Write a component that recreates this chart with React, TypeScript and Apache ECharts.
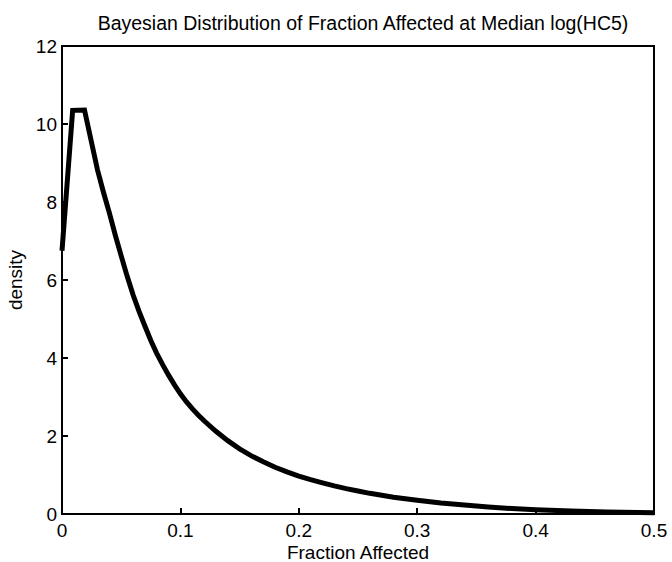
import React, { useEffect, useRef } from "react";
import * as echarts from "echarts";

const fraction = [0, 0.009, 0.019, 0.03, 0.035, 0.04, 0.045, 0.05, 0.055, 0.06, 0.065, 0.07, 0.075, 0.08, 0.085, 0.09, 0.095, 0.1, 0.105, 0.11, 0.115, 0.12, 0.13, 0.14, 0.15, 0.16, 0.17, 0.18, 0.19, 0.2, 0.21, 0.22, 0.23, 0.24, 0.25, 0.26, 0.27, 0.28, 0.29, 0.3, 0.32, 0.34, 0.36, 0.38, 0.4, 0.43, 0.46, 0.5];
const density = [6.75, 10.35, 10.36, 8.82, 8.25, 7.72, 7.15, 6.62, 6.1, 5.62, 5.2, 4.82, 4.45, 4.12, 3.83, 3.56, 3.31, 3.08, 2.88, 2.7, 2.54, 2.39, 2.12, 1.88, 1.67, 1.49, 1.34, 1.2, 1.08, 0.97, 0.88, 0.8, 0.72, 0.65, 0.59, 0.53, 0.48, 0.43, 0.39, 0.35, 0.28, 0.23, 0.18, 0.14, 0.11, 0.08, 0.05, 0.03];
const xTicks = [0, 0.1, 0.2, 0.3, 0.4, 0.5];
const yTicks = [0, 2, 4, 6, 8, 10, 12];
const xAxisName = "Fraction Affected";

const FONT = "'Liberation Sans', Arial, Helvetica, sans-serif";

export default function App() {
  const ref = useRef<HTMLDivElement>(null);
  useEffect(() => {
    const chart = echarts.init(ref.current!, null, { renderer: "svg" });
    chart.setOption({
      animation: false,
      backgroundColor: "#ffffff",
      title: {
        text: "Bayesian Distribution of Fraction Affected at Median log(HC5)",
        left: 358,
        textAlign: "center",
        top: 8,
        textStyle: { fontFamily: FONT, fontSize: 19.5, fontWeight: "normal", color: "#000" },
      },
      graphic: [
        {
          type: "text",
          x: 358,
          y: 552,
          style: {
            text: xAxisName,
            fontFamily: FONT,
            fontSize: 19,
            lineHeight: 19,
            fill: "#000",
            textAlign: "center",
            textVerticalAlign: "middle",
          },
        },
      ],
      grid: {
        left: 62, right: 18, top: 46, bottom: 48,
        outerBoundsMode: "none",
        containLabel: false,
        show: true, borderColor: "#000", borderWidth: 2, backgroundColor: "transparent",
      },
      xAxis: {
        type: "value",
        min: 0,
        max: 0.5,
        interval: 0.1,
        axisLine: { show: true, lineStyle: { color: "#000", width: 2 } },
        axisTick: { show: true, inside: true, length: 6, lineStyle: { color: "#000", width: 2 } },
        axisLabel: {
          fontFamily: FONT, fontSize: 19, lineHeight: 19, color: "#000", margin: 7,
          formatter: (v: number) => (xTicks.includes(Number(v.toFixed(1))) ? String(Number(v.toFixed(1))) : ""),
        },
        splitLine: { show: false },
      },
      yAxis: {
        type: "value",
        min: 0,
        max: 12,
        interval: 2,
        name: "density",
        nameLocation: "middle",
        nameGap: 32,
        nameTextStyle: { fontFamily: FONT, fontSize: 19, color: "#000" },
        axisLine: { show: true, lineStyle: { color: "#000", width: 2 } },
        axisTick: { show: true, inside: true, length: 6, lineStyle: { color: "#000", width: 2 } },
        axisLabel: {
          fontFamily: FONT, fontSize: 19, color: "#000", margin: 5,
          formatter: (v: number) => (yTicks.includes(v) ? String(v) : ""),
        },
        splitLine: { show: false },
      },
      series: [
        {
          type: "line",
          data: fraction.map((x, i) => [x, density[i]]),
          smooth: false,
          showSymbol: false,
          symbol: "none",
          lineStyle: { color: "#000", width: 5, join: "miter" },
          clip: true,
        },
      ],
    });
    return () => chart.dispose();
  }, []);
  return <div ref={ref} style={{ position: "absolute", left: 0, top: 0, width: 672, height: 562 }} />;
}
